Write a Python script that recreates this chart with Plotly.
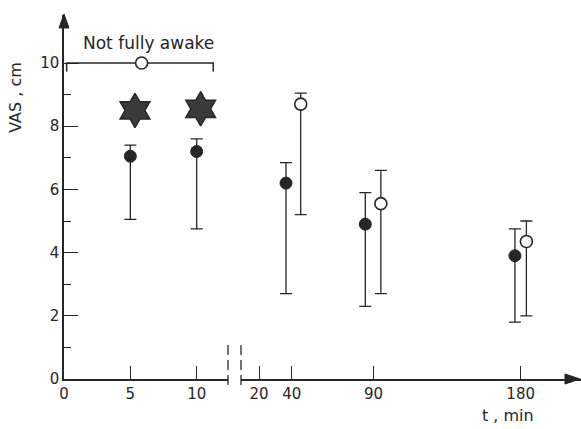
import plotly.graph_objects as go

INK = "#262626"
FONT = "DejaVu Sans"

# ---- axis ticks ----
y_ticks = [0, 2, 4, 6, 8, 10]
y_minor = [1, 3, 5, 7, 9]
x_left_ticks = [0, 5, 10]
x_right_ticks = [20, 40, 90, 180]

# ---- filled circles: early readings (min) ----
early_t = [5, 10]
early_mean = [7.05, 7.2]
early_hi = [7.4, 7.6]
early_lo = [5.05, 4.75]

# ---- filled circles: later readings ----
late_fill_t = [36.5, 85.0, 176.5]
late_fill_mean = [6.2, 4.9, 3.9]
late_fill_hi = [6.85, 5.9, 4.75]
late_fill_lo = [2.7, 2.3, 1.8]

# ---- open circles: later readings ----
late_open_t = [45.5, 94.5, 183.5]
late_open_mean = [8.7, 5.55, 4.35]
late_open_hi = [9.05, 6.6, 5.0]
late_open_lo = [5.2, 2.7, 2.0]

# ---- "not fully awake" period ----
awake_t = [5.85]
awake_vas = [10]
awake_span = [0.2, 11.25]
awake_drop = 9.73

# ---- star markers ----
star_t = [5.35, 10.3]
star_vas = [8.5, 8.55]

# axis geometry (left segment / right segment of the broken time axis)
LEFT_DOM = [0.0, 0.3172]
RIGHT_DOM = [0.3424, 1.0]
LEFT_RANGE = [0, 12.36]
RIGHT_RANGE = [8.99, 216.9]
Y_RANGE = [0, 11.52]


def err(mean, hi, lo):
    return dict(type="data", symmetric=False,
                array=[h - m for h, m in zip(hi, mean)],
                arrayminus=[m - l for m, l in zip(mean, lo)],
                color=INK, thickness=1.3, width=6)


fig = go.Figure()

fig.add_trace(go.Scatter(
    x=early_t, y=early_mean, mode="markers", xaxis="x", yaxis="y",
    error_y=err(early_mean, early_hi, early_lo),
    marker=dict(symbol="circle", size=12, color=INK, line=dict(color=INK, width=1)),
    cliponaxis=False))

fig.add_trace(go.Scatter(
    x=late_fill_t, y=late_fill_mean, mode="markers", xaxis="x2", yaxis="y",
    error_y=err(late_fill_mean, late_fill_hi, late_fill_lo),
    marker=dict(symbol="circle", size=12, color=INK, line=dict(color=INK, width=1)),
    cliponaxis=False))

fig.add_trace(go.Scatter(
    x=late_open_t, y=late_open_mean, mode="markers", xaxis="x2", yaxis="y",
    error_y=err(late_open_mean, late_open_hi, late_open_lo),
    marker=dict(symbol="circle", size=12, color="white", line=dict(color=INK, width=1.6)),
    cliponaxis=False))

# bracket for the "not fully awake" interval
fig.add_trace(go.Scatter(
    x=[awake_span[0], awake_span[0], awake_span[1], awake_span[1]],
    y=[awake_drop, awake_vas[0], awake_vas[0], awake_drop],
    mode="lines", xaxis="x", yaxis="y",
    line=dict(color=INK, width=1.5)))

fig.add_trace(go.Scatter(
    x=awake_t, y=awake_vas, mode="markers", xaxis="x", yaxis="y",
    marker=dict(symbol="circle", size=12, color="white", line=dict(color=INK, width=1.6)),
    cliponaxis=False))

fig.add_trace(go.Scatter(
    x=star_t, y=star_vas, mode="markers", xaxis="x", yaxis="y",
    marker=dict(symbol="hexagram", size=26, color="#3a3a3a", line=dict(color=INK, width=1.5)),
    cliponaxis=False))

axis_common = dict(
    showgrid=False, zeroline=False, showline=True, linecolor=INK, linewidth=1.5,
    ticks="inside", tickcolor=INK, tickwidth=1.4,
    tickfont=dict(family=FONT, size=15, color=INK))

fig.update_layout(
    width=581, height=429,
    margin=dict(l=64, r=0, t=15, b=50),
    paper_bgcolor="white", plot_bgcolor="white",
    showlegend=False,
    font=dict(family=FONT, color=INK),
    xaxis=dict(domain=LEFT_DOM, range=LEFT_RANGE, tickvals=x_left_ticks,
               ticklen=13, anchor="y", **axis_common),
    xaxis2=dict(domain=RIGHT_DOM, range=RIGHT_RANGE, tickvals=x_right_ticks,
                ticklen=13, anchor="y", **axis_common),
    yaxis=dict(range=Y_RANGE, tickvals=y_ticks, ticklen=14, anchor="x",
               minor=dict(tickvals=y_minor, ticks="inside", ticklen=7,
                          tickcolor=INK, tickwidth=1.4),
               **axis_common),
)

# arrowheads on both axes
fig.add_shape(type="path", xref="paper", yref="paper",
              xsizemode="pixel", ysizemode="pixel", xanchor=0, yanchor=1,
              path="M -5,-13 L 0,1 L 5,-13 Z",
              fillcolor=INK, line=dict(color=INK, width=1))
fig.add_shape(type="path", xref="paper", yref="paper",
              xsizemode="pixel", ysizemode="pixel", xanchor=1, yanchor=0,
              path="M -16,5 L -1,0 L -16,-5 Z",
              fillcolor=INK, line=dict(color=INK, width=1))

# dashed marks at the axis break
for xb in (LEFT_DOM[1], RIGHT_DOM[0]):
    fig.add_shape(type="line", xref="paper", yref="paper",
                  x0=xb, x1=xb, y0=-0.0165, y1=0.1016,
                  line=dict(color=INK, width=1.3, dash="10px,5px"))

fig.add_annotation(text="Not fully awake", xref="x", yref="y", x=6.4, y=10.63,
                   xanchor="center", yanchor="middle",
                   showarrow=False, font=dict(family=FONT, size=17, color=INK))
fig.add_annotation(text="VAS , cm", xref="paper", yref="paper", x=-0.093, y=0.775,
                   xanchor="center", yanchor="middle",
                   textangle=-90, showarrow=False,
                   font=dict(family=FONT, size=16, color=INK))
fig.add_annotation(text="t , min", xref="paper", yref="paper", x=0.859, y=-0.099,
                   xanchor="center", yanchor="middle",
                   showarrow=False, font=dict(family=FONT, size=16, color=INK))

fig.write_html("out.html")
